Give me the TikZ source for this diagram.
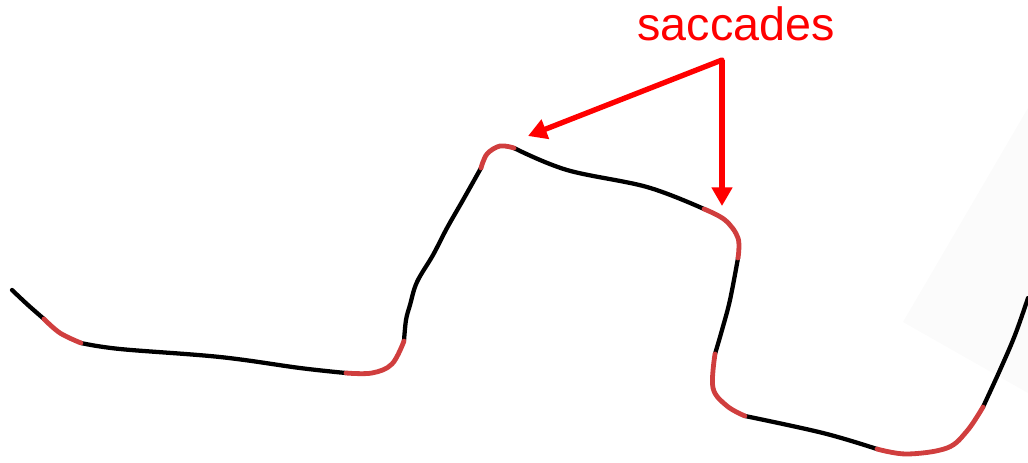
\documentclass[tikz,border=0pt]{standalone}
\usepackage{fontspec}
\setmainfont{Liberation Sans}
\usetikzlibrary{arrows.meta}
\definecolor{sacred}{RGB}{208,62,62}
\definecolor{labelred}{RGB}{255,0,0}
\tikzset{
  fixation/.style={draw=black, line width=3.2pt, line cap=round, line join=round},
  saccade/.style={draw=sacred, line width=3.6pt, line cap=round, line join=round},
  pointer/.style={draw=labelred, line width=4pt,
    -{Triangle[length=14pt, width=15pt]}},
}
\begin{document}
\begin{tikzpicture}[x=0.75pt, y=-0.75pt]
  \useasboundingbox (0,0) rectangle (1028,462);
  % faint backdrop patch at the right edge
  \fill[black!1.5] (903,322) -- (1028,108) -- (1028,393) -- cycle;

  % fixation stretches (black)
  \draw[fixation] plot[smooth, tension=0.6] coordinates {(12,290) (28,305) (44,319)};
  \draw[fixation] plot[smooth, tension=0.6] coordinates {(81,343) (120,349) (220,357) (300,368) (346,373)};
  \draw[fixation] plot[smooth, tension=0.6] coordinates {(404,341) (406,320) (410,305) (417,282) (433,255) (447,228) (463,200) (481,168)};
  \draw[fixation] plot[smooth, tension=0.6] coordinates {(514,148) (567,170) (647,187) (704,209)};
  \draw[fixation] plot[smooth, tension=0.6] coordinates {(738,258) (730,300) (722,330) (715,354)};
  \draw[fixation] plot[smooth, tension=0.6] coordinates {(745,416) (823,433) (877,449)};
  \draw[fixation] plot[smooth, tension=0.6] coordinates {(983,407) (1000,370) (1015,335) (1028,298)};

  % saccades (red)
  \draw[saccade] plot[smooth, tension=0.6] coordinates {(44,319) (60,333) (81,343)};
  \draw[saccade] plot[smooth, tension=0.6] coordinates {(346,373) (372,373) (392,364) (404,341)};
  \draw[saccade] plot[smooth, tension=0.6] coordinates {(481,168) (487,154) (500,146) (514,148)};
  \draw[saccade] plot[smooth, tension=0.6] coordinates {(704,209) (725,220) (738,238) (738,258)};
  \draw[saccade] plot[smooth, tension=0.6] coordinates {(715,354) (713,388) (727,406) (745,416)};
  \draw[saccade] plot[smooth, tension=0.6] coordinates {(877,449) (907,454) (947,448) (967,431) (983,407)};

  % label and pointers
  \node[text=labelred, font=\fontsize{35}{40}\selectfont, inner sep=0pt, anchor=base]
    (lbl) at (736,40) {saccades};
  \coordinate (hub) at (722,60);
  \coordinate (tipA) at (528,136);
  \coordinate (tipB) at (722,206);
  \draw[pointer, line cap=round] (hub) -- (tipA);
  \draw[pointer] (hub) -- (tipB);
\end{tikzpicture}
\end{document}
